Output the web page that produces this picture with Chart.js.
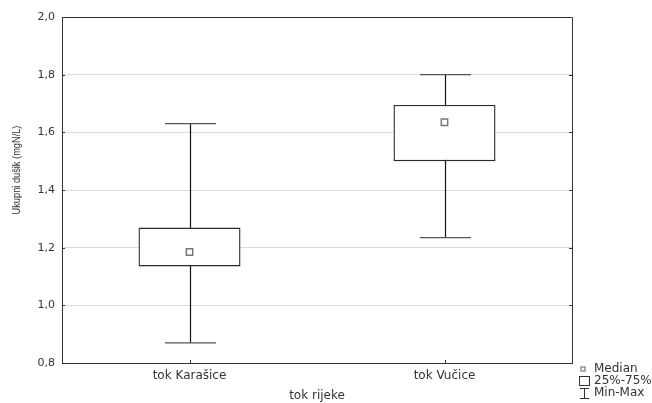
<!DOCTYPE html>
<html>
<head>
<meta charset="utf-8">
<script src="https://cdn.jsdelivr.net/npm/chart.js@4.4.0/dist/chart.umd.min.js"></script>
<style>
  html, body { margin: 0; padding: 0; background: #fff; }
  #wrap { width: 652px; height: 403px; position: relative; }
</style>
</head>
<body>
<div id="wrap"><canvas id="chart"></canvas></div>
<script>
// box plot values
const categories = ['tok Karašice', 'tok Vučice'];
const medians = [1.185, 1.635];
const q1 = [1.135, 1.50];
const q3 = [1.27, 1.695];
const mins = [0.87, 1.235];
const maxs = [1.63, 1.80];
const yTicks = [0.8, 1.0, 1.2, 1.4, 1.6, 1.8, 2.0];
const legendLabels = ['Median', '25%-75%', 'Min-Max'];
const yTitle = 'Ukupni dušik (mgN/L)';
const xTitle = 'tok rijeke';

const INK = '#333';

// whiskers drawn under the boxes, through the scales
const whiskers = {
  id: 'whiskers',
  beforeDatasetsDraw(chart) {
    const { ctx, scales: { x, y } } = chart;
    const bars = chart.getDatasetMeta(1).data;
    ctx.save();
    ctx.lineWidth = 1.2;
    categories.forEach((c, i) => {
      const cx = Math.round(x.getPixelForValue(i)) + 0.5;
      const top = y.getPixelForValue(maxs[i]);
      const bot = y.getPixelForValue(mins[i]);
      const half = bars[i].width / 4;
      ctx.strokeStyle = '#111';
      ctx.beginPath();
      ctx.moveTo(cx, top);
      ctx.lineTo(cx, bot);
      ctx.stroke();
      ctx.strokeStyle = '#555';
      ctx.beginPath();
      ctx.moveTo(cx - half, top);
      ctx.lineTo(cx + half, top);
      ctx.moveTo(cx - half, bot);
      ctx.lineTo(cx + half, bot);
      ctx.stroke();
    });
    ctx.restore();
  }
};

// frame, inner tick marks, y title and the legend
const frame = {
  id: 'frame',
  afterDraw(chart) {
    const { ctx, chartArea: a, scales: { x, y } } = chart;
    ctx.save();
    ctx.strokeStyle = INK;
    ctx.lineWidth = 1;
    ctx.beginPath();
    ctx.moveTo(a.left, a.top + 0.5);
    ctx.lineTo(a.right + 0.5, a.top + 0.5);
    ctx.lineTo(a.right + 0.5, a.bottom);
    yTicks.forEach(v => {
      const py = Math.round(y.getPixelForValue(v)) + 0.5;
      ctx.moveTo(a.left, py);
      ctx.lineTo(a.left + 3, py);
      ctx.moveTo(a.right - 3, py);
      ctx.lineTo(a.right, py);
    });
    categories.forEach((c, i) => {
      const px = Math.round(x.getPixelForValue(i)) + 0.5;
      ctx.moveTo(px, a.bottom);
      ctx.lineTo(px, a.bottom - 3);
    });
    ctx.stroke();

    // y axis title (narrowed along its length like the original)
    ctx.save();
    ctx.translate(17, 170);
    ctx.rotate(-Math.PI / 2);
    ctx.scale(0.84, 1);
    ctx.fillStyle = INK;
    ctx.font = '11px "Liberation Sans", Arial, sans-serif';
    ctx.textAlign = 'center';
    ctx.textBaseline = 'middle';
    ctx.fillText(yTitle, 0, 0);
    ctx.restore();

    // legend
    const lx = 579.5, tx = 594;
    const rows = [369, 381, 393];
    ctx.fillStyle = '#fff';
    ctx.strokeStyle = '#777';
    ctx.lineWidth = 1.2;
    ctx.fillRect(581, 367, 4, 4);
    ctx.strokeRect(581, 367, 4, 4);
    ctx.strokeStyle = INK;
    ctx.lineWidth = 1;
    ctx.strokeRect(lx, 376.5, 10, 9);
    ctx.beginPath();
    ctx.moveTo(lx + 5, 388.5);
    ctx.lineTo(lx + 5, 398.5);
    ctx.moveTo(lx + 0.5, 388.5);
    ctx.lineTo(lx + 9.5, 388.5);
    ctx.moveTo(lx + 0.5, 398.5);
    ctx.lineTo(lx + 9.5, 398.5);
    ctx.stroke();
    ctx.fillStyle = INK;
    ctx.font = '12px "DejaVu Sans", sans-serif';
    ctx.textAlign = 'left';
    ctx.textBaseline = 'middle';
    legendLabels.forEach((t, i) => ctx.fillText(t, tx, rows[i]));
    ctx.restore();
  }
};

new Chart(document.getElementById('chart'), {
  type: 'bar',
  data: {
    labels: categories,
    datasets: [
      {
        type: 'line',
        label: legendLabels[0],
        data: medians,
        showLine: false,
        pointStyle: 'rect',
        pointRadius: 4.5,
        pointHoverRadius: 4.5,
        pointBorderWidth: 1.5,
        pointBorderColor: '#777',
        pointBackgroundColor: '#fff',
        order: 0
      },
      {
        label: legendLabels[1],
        data: categories.map((c, i) => [q1[i], q3[i]]),
        backgroundColor: '#fff',
        borderColor: '#2a2a2a',
        borderWidth: 1.4,
        borderSkipped: false,
        barPercentage: 0.4,
        categoryPercentage: 1.0,
        order: 1
      }
    ]
  },
  options: {
    responsive: true,
    maintainAspectRatio: false,
    animation: false,
    layout: { padding: { top: 17, right: 80, left: 0, bottom: 0 } },
    plugins: { legend: { display: false }, tooltip: { enabled: false } },
    scales: {
      x: {
        grid: { display: false, drawTicks: false },
        border: { color: INK, width: 1 },
        ticks: { color: INK, padding: 6, font: { family: 'DejaVu Sans', size: 12 } },
        title: {
          display: true,
          text: xTitle,
          color: INK,
          padding: 0,
          font: { family: 'DejaVu Sans', size: 12 }
        },
        afterFit(scale) { scale.height = 40; }
      },
      y: {
        min: 0.8,
        max: 2.0,
        afterBuildTicks(scale) { scale.ticks = yTicks.map(v => ({ value: v })); },
        grid: { color: '#dcdcdc', drawTicks: false },
        border: { color: INK, width: 1 },
        ticks: {
          color: INK,
          padding: 7,
          font: { family: 'DejaVu Sans', size: 11 },
          callback: v => v.toFixed(1).replace('.', ',')
        },
        afterFit(scale) { scale.width = 62; }
      }
    }
  },
  plugins: [whiskers, frame]
});
</script>
</body>
</html>
